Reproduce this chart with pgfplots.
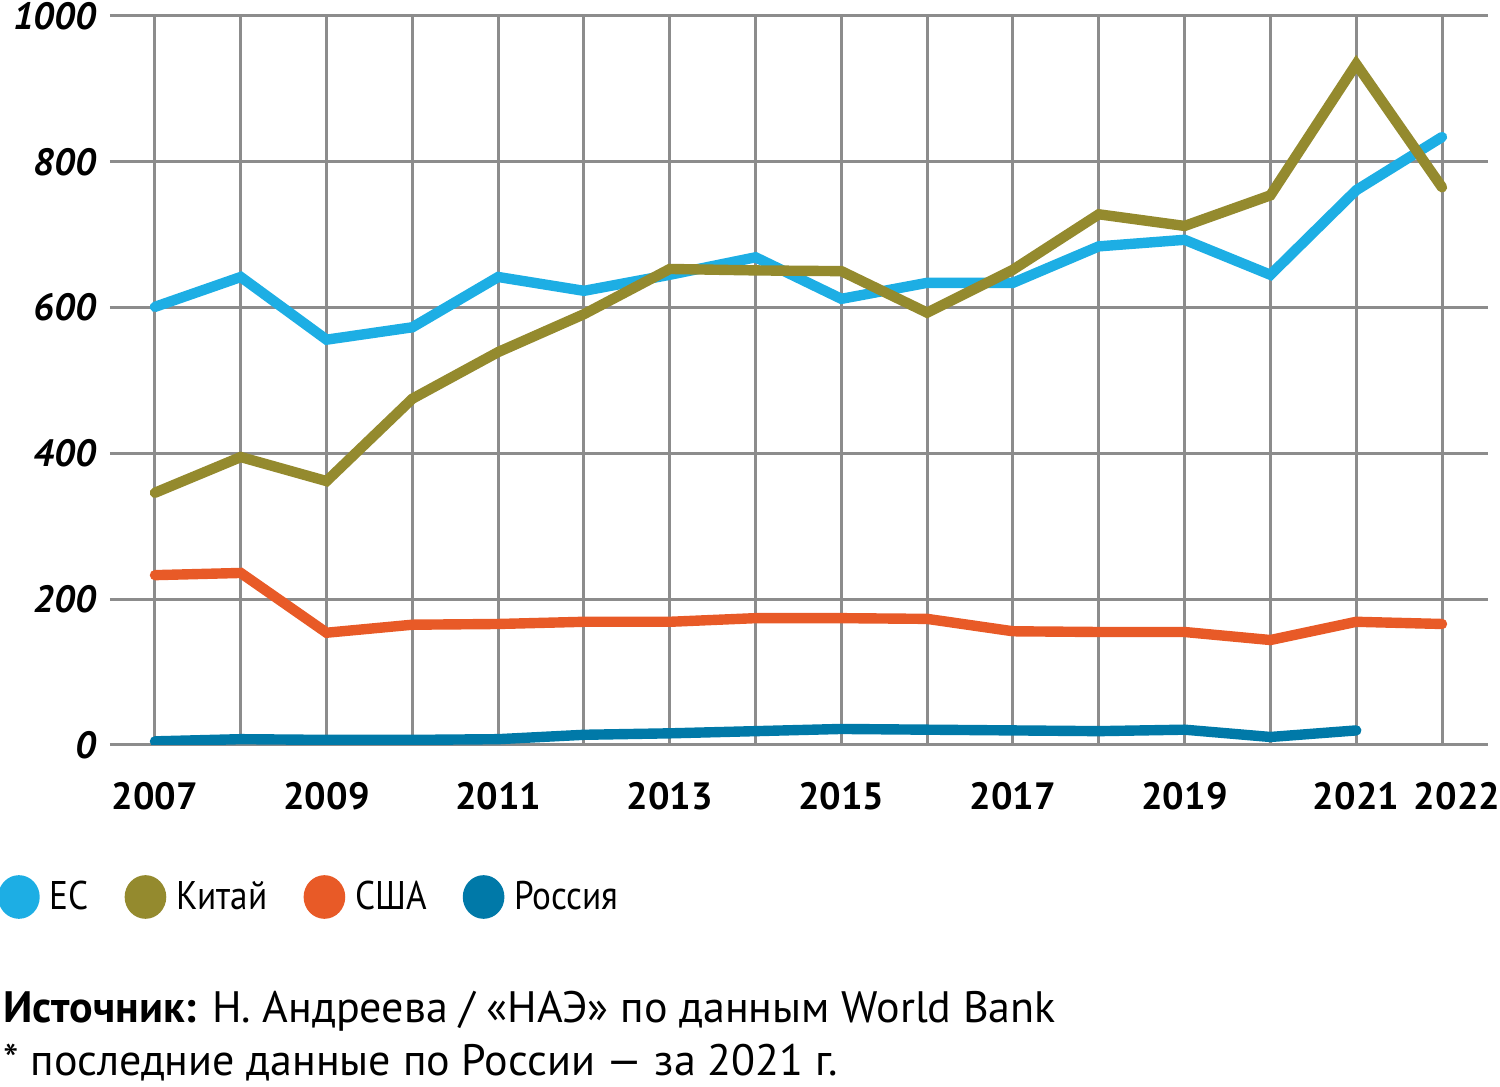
\documentclass[border=0pt]{standalone}
\usepackage{fontspec}
\setmainfont{PT Sans}
\newfontfamily\legfont[FakeStretch=0.88]{PT Sans}
\usepackage{pgfplots}
\pgfplotsset{compat=1.18}
\definecolor{eu}{HTML}{1DAEE4}
\definecolor{cn}{HTML}{948A2E}
\definecolor{us}{HTML}{E85A27}
\definecolor{ru}{HTML}{0079A8}
\definecolor{gridc}{HTML}{8C8C8C}
\begin{document}
\begin{tikzpicture}
\path[use as bounding box] (0,0) rectangle (750pt,543.5pt);
\begin{axis}[
  at={(55pt,171pt)}, anchor=south west,
  scale only axis, width=689pt, height=364.5pt,
  xmin=2006.476, xmax=2022.536, ymin=0, ymax=1000,
  axis line style={draw=none},
  major tick length=0pt,
  xtick={2007,...,2021},
  xticklabels={2007,,2009,,2011,,2013,,2015,,2017,,2019,,2021},
  extra x ticks={2022}, extra x tick labels={2022},
  extra x tick style={xticklabel style={xshift=7.5pt}},
  ytick={0,200,...,1000},
  grid=major,
  major grid style={gridc, line width=1.5pt},
  xticklabel style={font=\fontsize{19}{19}\selectfont\bfseries, yshift=-15pt},
  yticklabel style={font=\fontsize{19}{19}\selectfont\bfseries\itshape, xshift=-3.5pt},
  /pgf/number format/assume math mode=true,
  /pgf/number format/1000 sep={},
  every axis plot/.append style={line width=5.2pt, line cap=round},
  legend columns=4,
  legend style={at={(-0.0815,-0.2085)}, anchor=west, draw=none, fill=none,
    inner sep=0pt, font=\legfont\fontsize{20}{20}\selectfont,
    /tikz/every even column/.append style={column sep=16pt},
    /tikz/every odd column/.append style={column sep=3pt}},
  legend image code/.code={\fill[#1] (3pt,0pt) ellipse (7.8pt and 8.3pt);},
]
\addplot[color=eu] coordinates {(2007,601)(2008,642)(2009,556)(2010,573)(2011,642)(2012,623)(2013,645)(2014,669)(2015,612)(2016,634)(2017,634)(2018,684)(2019,693)(2020,645)(2021,761)(2022,834)};
\addlegendentry{ЕС}
\addplot[color=cn] coordinates {(2007,346)(2008,395)(2009,362)(2010,475)(2011,539)(2012,591)(2013,653)(2014,651)(2015,650)(2016,593)(2017,652)(2018,728)(2019,712)(2020,754)(2021,934)(2022,765)};
\addlegendentry{Китай}
\addplot[color=us] coordinates {(2007,233)(2008,236)(2009,154)(2010,165)(2011,166)(2012,169)(2013,169)(2014,174)(2015,174)(2016,173)(2017,156)(2018,155)(2019,155)(2020,144)(2021,169)(2022,166)};
\addlegendentry{США}
\addplot[color=ru] coordinates {(2007,5)(2008,8)(2009,7)(2010,7)(2011,8)(2012,14)(2013,16)(2014,19)(2015,22)(2016,21)(2017,20)(2018,19)(2019,21)(2020,11)(2021,20)};
\addlegendentry{Россия}
\end{axis}
\node[anchor=base west, inner sep=0pt, font=\fontsize{22}{22}\selectfont] at (1.5pt,32pt) {\textbf{Источник:} Н. Андреева / «НАЭ» по данным World Bank};
\node[anchor=base west, inner sep=0pt, font=\fontsize{22}{22}\selectfont] at (1.5pt,5.5pt) {* последние данные по России — за 2021 г.};
\end{tikzpicture}
\end{document}
